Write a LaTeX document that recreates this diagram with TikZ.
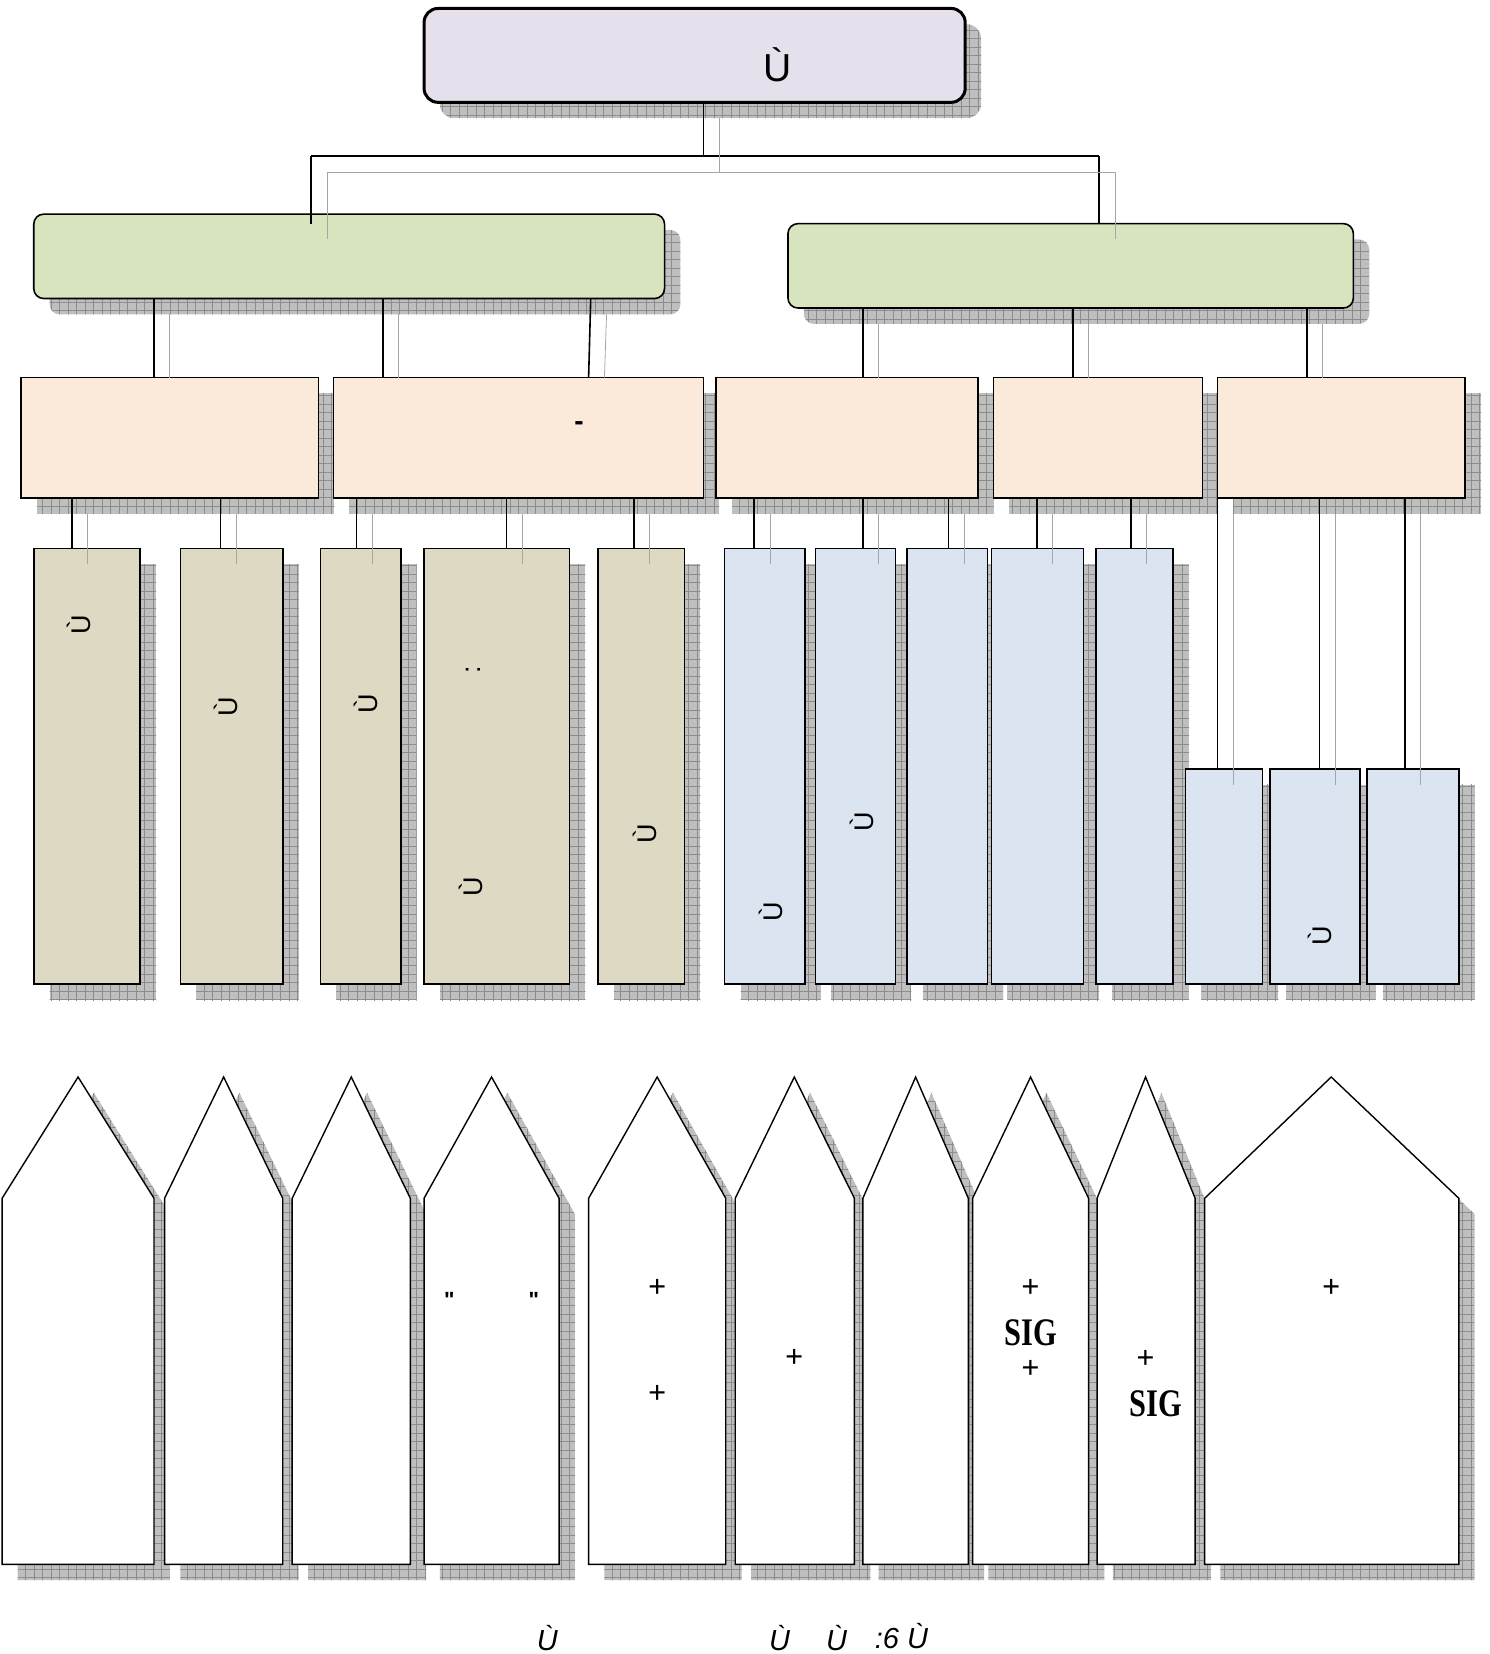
\documentclass[tikz,border=0pt]{standalone}
\usepackage{fontspec}
\setmainfont{Liberation Serif}
\newfontfamily\arialf{Liberation Sans}
\usetikzlibrary{patterns.meta,fit,calc}
\pgfdeclarelayer{shadowlayer}
\pgfsetlayers{shadowlayer,main}
\tikzset{
  shadowst/.style={preaction={fill=black!25},pattern={Hatch[angle=0,distance=8.5pt,line width=0.5pt]},pattern color=black!45},
  boxst/.style={draw=black,line width=1.6pt},
  topst/.style={boxst,line width=3pt,fill=topc},
  greenst/.style={boxst,fill=greenc},
  orangest/.style={boxst,fill=orangec},
  tanst/.style={boxst,fill=tanc},
  bluest/.style={boxst,fill=bluec},
  pentst/.style={draw=black,line width=1.4pt,fill=white,line join=miter},
  conn/.style={draw=black,line width=1.6pt},
  shline/.style={draw=black!35,line width=0.8pt},
  bigU/.style={font=\arialf\fontsize{39}{43}\selectfont},
  rotU/.style={font=\arialf\fontsize{27}{31}\selectfont,rotate=90},
  plus/.style={font=\bfseries\fontsize{32}{36}\selectfont},
  sig/.style={font=\bfseries\fontsize{39}{43}\selectfont,xscale=0.78},
  capt/.style={font=\arialf\itshape\fontsize{29}{33}\selectfont}
}
\definecolor{topc}{HTML}{E5E0EC}
\definecolor{greenc}{HTML}{D7E4BD}
\definecolor{orangec}{HTML}{FBE9DA}
\definecolor{tanc}{HTML}{DDD9C3}
\definecolor{bluec}{HTML}{DBE5F1}
% name, x1,y1,x2,y2, node style, corner radius
\newcommand\mybox[7]{%
  \begin{pgfonlayer}{shadowlayer}
  \path[shadowst,rounded corners=#7] (#2+15,#3+15) rectangle (#4+15,#5+15);
  \end{pgfonlayer}
  \node[fit={(#2,#3) (#4,#5)},inner sep=0pt,outer sep=0pt,#6,rounded corners=#7] (#1) {};}
\newcommand\pent[3]{%
  \begin{pgfonlayer}{shadowlayer}
  \path[shadowst] (#1+15,1151) -- (#2+15,1036) -- (#3+15,1151) -- (#3+15,1498) -- (#1+15,1498) -- cycle;
  \end{pgfonlayer}
  \draw[pentst] (#1,1136) -- (#2,1021) -- (#3,1136) -- (#3,1483) -- (#1,1483) -- cycle;}
% connector with shadow that ends inside target
\newcommand\cn[2]{%
  \draw[conn] (#1) -- (#2);
  \draw[shline] ($(#1)+(15,15)$) -- ($(#2)+(15,15)$);}
% connector with shadow that stops at target top
\newcommand\cnb[2]{%
  \draw[conn] (#1) -- (#2);
  \draw[shline] ($(#1)+(15,15)$) -- ($(#2)+(15,0)$);}
\begin{document}
\begin{tikzpicture}[x=1.0545pt,y=-1.0545pt]
\useasboundingbox (0,0) rectangle (1412,1568);
% boxes
\mybox{top}{402}{8}{915}{97}{topst}{14pt}
\mybox{gL}{32}{203}{630}{283}{greenst}{10pt}
\mybox{gR}{747}{212}{1283}{292}{greenst}{10pt}
\mybox{o1}{20}{358}{302}{472}{orangest}{0pt}
\mybox{o2}{316}{358}{667}{472}{orangest}{0pt}
\mybox{o3}{679}{358}{927}{472}{orangest}{0pt}
\mybox{o4}{942}{358}{1140}{472}{orangest}{0pt}
\mybox{o5}{1154}{358}{1389}{472}{orangest}{0pt}
\mybox{ta}{32}{520}{133}{933}{tanst}{0pt}
\mybox{tb}{171}{520}{268}{933}{tanst}{0pt}
\mybox{tc}{304}{520}{380}{933}{tanst}{0pt}
\mybox{td}{402}{520}{540}{933}{tanst}{0pt}
\mybox{te}{567}{520}{649}{933}{tanst}{0pt}
\mybox{bf}{687}{520}{763}{933}{bluest}{0pt}
\mybox{bg}{773}{520}{849}{933}{bluest}{0pt}
\mybox{bh}{860}{520}{936}{933}{bluest}{0pt}
\mybox{bi}{940}{520}{1027}{933}{bluest}{0pt}
\mybox{bj}{1039}{520}{1112}{933}{bluest}{0pt}
\mybox{bk}{1124}{729}{1197}{933}{bluest}{0pt}
\mybox{bl}{1204}{729}{1289}{933}{bluest}{0pt}
\mybox{bm}{1296}{729}{1383}{933}{bluest}{0pt}
% connector x positions
\coordinate (c0) at (667,148);
\coordinate (bL) at (295,148);
\coordinate (bR) at (1042,148);
\foreach \xx in {146,363,560,558,818,1017,1239,68,209,338,480,601,715,899,983,1072,1154,1251,1332}
  {\coordinate (x\xx) at (\xx,0);}
% top to green
\draw[conn] (top.south -| c0) -- (c0);
\draw[conn] (bL) -- (bR);
\draw[conn] (bL) -- (gR.north -| bL);
\draw[conn] (bR) -- (gR.north -| bR);
\draw[shline] ($(top.south -| c0)+(15,15)$) -- ($(c0)+(15,15)$);
\draw[shline] ($(bL)+(15,15)$) -- ($(bR)+(15,15)$);
\draw[shline] ($(bL)+(15,15)$) -- ($(gR.north -| bL)+(15,15)$);
\draw[shline] ($(bR)+(15,15)$) -- ($(gR.north -| bR)+(15,15)$);
% green to orange
\cnb{gL.south -| x146}{o1.north -| x146}
\cnb{gL.south -| x363}{o2.north -| x363}
\cnb{gL.south -| x560}{o2.north -| x558}
\cnb{gR.south -| x818}{o3.north -| x818}
\cnb{gR.south -| x1017}{o4.north -| x1017}
\cnb{gR.south -| x1239}{o5.north -| x1239}
% orange to lower boxes
\cn{o1.south -| x68}{ta.north -| x68}
\cn{o1.south -| x209}{tb.north -| x209}
\cn{o2.south -| x338}{tc.north -| x338}
\cn{o2.south -| x480}{td.north -| x480}
\cn{o2.south -| x601}{te.north -| x601}
\cn{o3.south -| x715}{bf.north -| x715}
\cn{o3.south -| x818}{bg.north -| x818}
\cn{o3.south -| x899}{bh.north -| x899}
\cn{o4.south -| x983}{bi.north -| x983}
\cn{o4.south -| x1072}{bj.north -| x1072}
\cn{o5.south -| x1154}{bk.north -| x1154}
\cn{o5.south -| x1251}{bl.north -| x1251}
\cn{o5.south -| x1332}{bm.north -| x1332}
% texts in boxes
\node[bigU] (t0) at (737,61) {Ù};
\node[font=\arialf\bfseries\fontsize{28}{32}\selectfont] (t1) at (549,404) {-};
\node[rotU] (ua) at (75,592) {Ù};
\node[rotU] (ub) at (214,670) {Ù};
\node[rotU] (uc) at (347,667) {Ù};
\node[rotU] (cd) at (449,635) {:};
\node[rotU] (ud) at (446,841) {Ù};
\node[rotU] (ue) at (611,790) {Ù};
\node[rotU] (uf) at (731,864) {Ù};
\node[rotU] (ug) at (817,779) {Ù};
\node[rotU] (ul) at (1251,887) {Ù};
% pentagons
\pent{2}{74}{146}
\pent{156}{212}{268}
\pent{277}{333}{389}
\pent{402}{466}{530}
\pent{558}{623}{688}
\pent{697}{753}{810}
\pent{818}{868}{918}
\pent{922}{977}{1032}
\pent{1040}{1086}{1133}
\pent{1142}{1262}{1383}
% pentagon texts
\node[font=\arialf\bfseries\fontsize{22}{26}\selectfont] (q1) at (426,1232) {"};
\node[font=\arialf\bfseries\fontsize{22}{26}\selectfont] (q2) at (506,1232) {"};
\node[plus] (p1) at (623,1221) {+};
\node[plus] (p2) at (623,1322) {+};
\node[plus] (p3) at (753,1288) {+};
\node[plus] (p4) at (977,1221) {+};
\node[sig] (s1) at (977,1263) {SIG};
\node[plus] (p5) at (977,1298) {+};
\node[plus] (p6) at (1086,1289) {+};
\node[sig] (s2) at (1096,1331) {SIG};
\node[plus] (p7) at (1262,1221) {+};
% caption
\node[capt] (k1) at (519,1553) {Ù};
\node[capt] (k2) at (739,1553) {Ù};
\node[capt] (k3) at (793,1553) {Ù};
\node[capt,anchor=base west] (k4) at (826,1563) {:6 Ù};
\end{tikzpicture}
\end{document}
